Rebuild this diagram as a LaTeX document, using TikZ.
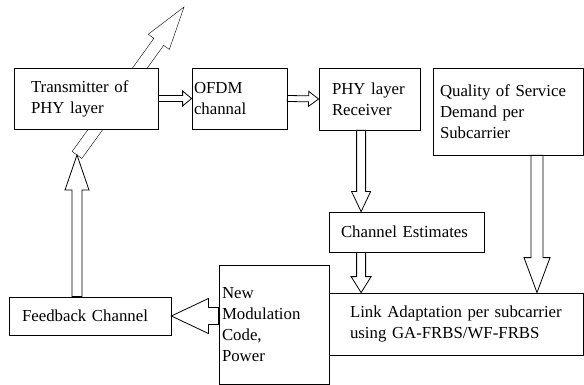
\documentclass[tikz,border=0pt]{standalone}
\usepackage{fontspec}
\setmainfont{Liberation Serif}
\usetikzlibrary{calc,backgrounds}

% hollow block arrow: from, to, shaft half width, head half width, head length
\newcommand{\fatarrow}[5]{%
  \coordinate (hb) at ($(#2)!#5!(#1)$);
  \draw[fill=white] ($(#1)!#3!90:(#2)$) -- ($(hb)!#3!90:(#2)$) -- ($(hb)!#4!90:(#2)$)
    -- (#2) -- ($(hb)!#4!-90:(#2)$) -- ($(hb)!#3!-90:(#2)$) -- ($(#1)!#3!-90:(#2)$) -- cycle;
}

\begin{document}
\begin{tikzpicture}[x=1pt,y=-1pt,line width=0.8pt,
  box/.style={draw, fill=white, align=left, inner ysep=0pt,
    font=\fontsize{16.8}{21}\selectfont}]
  \useasboundingbox (0,0) rectangle (584,385);

  % Blocks
  \node[box, text width=110pt, inner xsep=17pt, minimum height=61] (tx) at (86,98.5)
    {Transmitter of\\PHY layer};
  \node[box, text width=91pt, inner xsep=2pt, minimum height=61] (ofdm) at (239.5,98.5)
    {OFDM\\channal};
  \node[box, text width=75pt, inner xsep=13pt, minimum height=62] (rx) at (369.5,99)
    {PHY layer\\Receiver};
  \node[box, text width=136pt, inner xsep=7pt, minimum height=87] (qos) at (508,111.5)
    {Quality of Service\\Demand per\\Subcarrier};
  \node[box, text width=131pt, inner xsep=12pt, minimum height=40] (est) at (406.5,232)
    {Channel Estimates};
  \node[box, text width=212pt, inner xsep=21pt, minimum height=62] (link) at (456,324)
    {Link Adaptation per subcarrier\\using GA-FRBS/WF-FRBS};
  \node[box, text width=104pt, inner xsep=3pt, minimum height=119] (newmod) at (274,324.5)
    {New\\Modulation\\Code,\\Power};
  \node[box, text width=136pt, inner xsep=13pt, minimum height=38] (fb) at (90,316)
    {Feedback Channel};

  % Arrow ends
  \coordinate (ant) at (77,155);
  \coordinate (sky) at (184,7);
  \coordinate (rxout) at ($(rx.south west)+(42.5,0)$);
  \coordinate (estin) at (rxout |- est.north);
  \coordinate (estout) at (rxout |- est.south);
  \coordinate (linkin) at (rxout |- link.north);
  \coordinate (qosout) at ($(qos.south)+(29,0)$);
  \coordinate (linkqos) at (qosout |- link.north);
  \coordinate (modout) at (newmod.west |- fb.east);
  \coordinate (fbout) at (fb.north -| ant);

  % Antenna behind the transmitter
  \begin{scope}[on background layer]
    \fatarrow{ant}{sky}{6pt}{13pt}{43pt}
  \end{scope}

  % Signal flow
  \fatarrow{tx.east}{ofdm.west}{3pt}{7.5pt}{9pt}
  \fatarrow{ofdm.east}{rx.west}{3pt}{7.5pt}{10pt}
  \fatarrow{rxout}{estin}{4.5pt}{9.5pt}{20pt}
  \fatarrow{estout}{linkin}{4.5pt}{10pt}{16pt}
  \fatarrow{qosout}{linkqos}{6pt}{13pt}{35pt}
  \fatarrow{modout}{fb.east}{8.5pt}{17.5pt}{37pt}
  \fatarrow{fbout}{ant}{5pt}{12pt}{35pt}
\end{tikzpicture}
\end{document}
